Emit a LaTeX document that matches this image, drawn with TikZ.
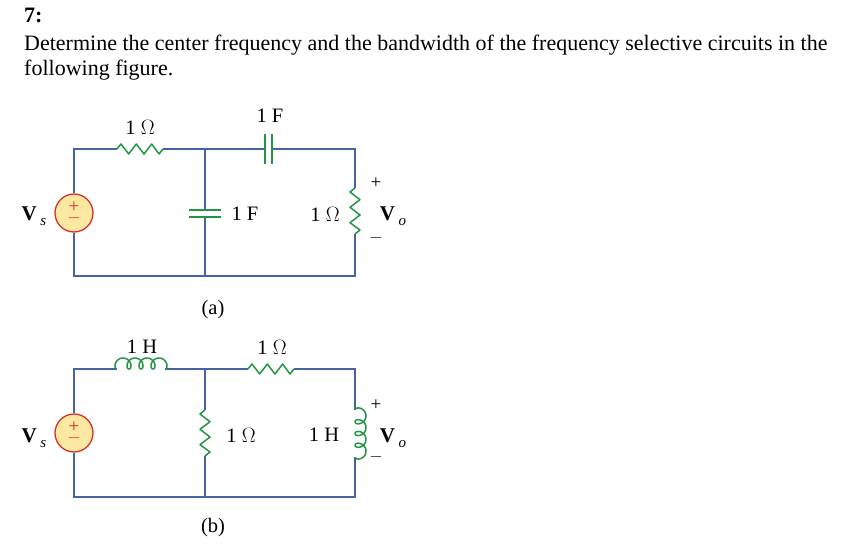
\documentclass[tikz,border=0pt]{standalone}
\usepackage{fontspec}
\setmainfont{Liberation Serif}
\begin{document}
\begin{tikzpicture}[x=1pt,y=-1pt,
  wire/.style={draw=wirec,line width=1.3pt},
  comp/.style={draw=compc,line width=1.5pt,line join=round},
  lbl/.style={font=\fontsize{20.5}{20.5}\selectfont,inner sep=0pt},
  vl/.style={font=\fontsize{21}{21}\selectfont\bfseries,inner sep=0pt},
  pm/.style={font=\fontsize{19}{19}\selectfont,inner sep=0pt},
  resH/.pic={\draw[comp] (0,0)--(4,-5)--(11.7,5)--(19.3,-5)--(27,5)--(34.7,-5)--(42,5)--(46,0);},
  resV/.pic={\draw[comp] (0,0)--(-5,4)--(5,11.7)--(-5,19.3)--(5,27)--(-5,34.7)--(5,42)--(0,46);},
  indH/.pic={\draw[comp] plot[domain=0:25.13,samples=240,variable=\t] ({1.91*\t-4.6*sin(\t r)},{-5.5+5.5*cos(\t r)});},
  indV/.pic={\draw[comp] plot[domain=0:25.13,samples=240,variable=\t] ({-5.5+5.5*cos(\t r)},{1.87*\t-4.6*sin(\t r)});},
  src/.style={circle,draw=srcr,fill=srcy,line width=1.3pt,minimum size=38pt,inner sep=0pt}]
\definecolor{wirec}{RGB}{70,100,165}
\definecolor{compc}{RGB}{35,150,70}
\definecolor{srcr}{RGB}{215,50,40}
\definecolor{srcy}{RGB}{252,232,160}
\useasboundingbox (0,0) rectangle (854,549);
\fill[white] (0,0) rectangle (854,549);
% text
\node[anchor=west,font=\fontsize{22}{22}\selectfont\bfseries,inner sep=0pt] (t0) at (24,15) {7:};
\node[anchor=west,font=\fontsize{22}{22}\selectfont,inner sep=0pt] (t1) at (24,45) {Determine the center frequency and the bandwidth of the frequency selective circuits in the};
\node[anchor=west,font=\fontsize{22}{22}\selectfont,inner sep=0pt] (t2) at (24,70) {following figure.};

% ===== circuit (a)
\coordinate (aTL) at (74,149); \coordinate (aTM) at (205,149); \coordinate (aTR) at (355,149);
\coordinate (aBL) at (74,276); \coordinate (aBM) at (205,276); \coordinate (aBR) at (355,276);
\node[src,text=srcr,font=\fontsize{19}{12}\selectfont,align=center] (sa) at (74,213) {+\\[-2pt]$-$};
\draw[wire] (sa.north) |- (117,149);
\draw[wire] (163,149) -- (265,149);
\draw[wire] (272,149) -- (aTR) -- (355,188);
\draw[wire] (355,234) -- (aBR) -- (aBL) -- (sa.south);
\draw[wire] (aTM) -- (205,210);
\draw[wire] (205,217) -- (aBM);
\pic at (117,149) {resH};
\draw[comp] (265,134) -- (265,164) (272,134) -- (272,164);
\draw[comp] (189,210) -- (221,210) (189,217) -- (221,217);
\pic at (355,188) {resV};
\node[lbl] (la1) at (140,127) {1 $\Omega$};
\node[lbl] (la2) at (270,116) {1 F};
\node[lbl] (la3) at (245,214) {1 F};
\node[lbl] (la4) at (325,214) {1 $\Omega$};
\node[pm] at (376,183) {+};
\node[pm] at (376,238) {$-$};
\node[vl] at (393,216) {V\raisebox{-5pt}{\,\normalfont\itshape\fontsize{15}{15}\selectfont o}};
\node[vl] at (34,216) {V\raisebox{-5pt}{\,\normalfont\itshape\fontsize{15}{15}\selectfont s}};
\node[lbl] (capa) at (213,310) {(a)};

% ===== circuit (b)
\coordinate (bTL) at (74,369); \coordinate (bTM) at (205,369); \coordinate (bTR) at (355,369);
\coordinate (bBL) at (74,497); \coordinate (bBM) at (205,497); \coordinate (bBR) at (355,497);
\node[src,text=srcr,font=\fontsize{19}{12}\selectfont,align=center] (sb) at (74,433) {+\\[-2pt]$-$};
\draw[wire] (sb.north) |- (117,369);
\draw[wire] (165,369) -- (248,369);
\draw[wire] (294,369) -- (bTR) -- (355,410);
\draw[wire] (355,457) -- (bBR) -- (bBL) -- (sb.south);
\draw[wire] (bTM) -- (205,410);
\draw[wire] (205,456) -- (bBM);
\pic at (117,369) {indH};
\pic at (248,369) {resH};
\pic at (205,410) {resV};
\pic[xscale=-1] at (355,410) {indV};
\node[lbl] at (142,347) {1 H};
\node[lbl] at (272,347) {1 $\Omega$};
\node[lbl] at (241,435) {1 $\Omega$};
\node[lbl] at (324,435) {1 H};
\node[pm] at (376,405) {+};
\node[pm] at (376,457) {$-$};
\node[vl] at (393,438) {V\raisebox{-5pt}{\,\normalfont\itshape\fontsize{15}{15}\selectfont o}};
\node[vl] at (34,438) {V\raisebox{-5pt}{\,\normalfont\itshape\fontsize{15}{15}\selectfont s}};
\node[lbl] (capb) at (213,528) {(b)};
\end{tikzpicture}
\end{document}
